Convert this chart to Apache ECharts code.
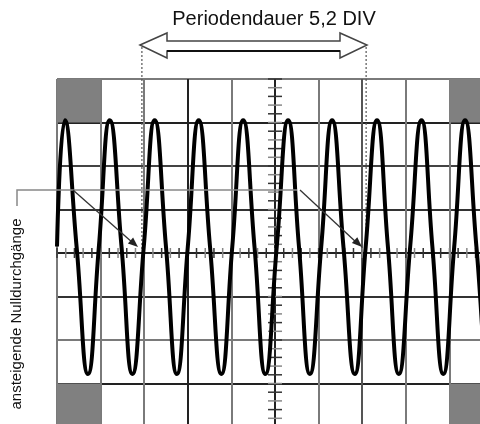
<!DOCTYPE html>
<html>
<head>
<meta charset="utf-8">
<script src="https://cdn.jsdelivr.net/npm/echarts@6/dist/echarts.min.js"></script>
<style>html,body{margin:0;padding:0;background:#fff}#c{width:480px;height:424px}</style>
</head>
<body>
<div id="c"></div>
<script>
// Title / labels
const titleText = "Periodendauer 5,2 DIV";
const sideText = "ansteigende Nulldurchgänge";
// Wave samples (x in DIV, y in DIV): start, peaks, crossings, troughs
const waveX = [0.00, 0.18, 0.45, 0.71, 0.96, 1.21, 1.48, 1.73, 1.99, 2.24, 2.50, 2.75, 3.00,
  3.25, 3.51, 3.77, 4.02, 4.27, 4.53, 4.78, 5.04, 5.30, 5.55, 5.80, 6.06, 6.31, 6.57, 6.83,
  7.08, 7.34, 7.59, 7.84, 8.10, 8.36, 8.61, 8.86, 9.11, 9.36, 9.62, 9.87, 10.0];
const waveY = [0.15, 3.05, 0.14, -2.78, 0.14, 3.05, 0.14, -2.78, 0.14, 3.05, 0.14, -2.78, 0.14,
  3.05, 0.14, -2.78, 0.14, 3.05, 0.14, -2.78, 0.14, 3.05, 0.14, -2.78, 0.14, 3.05, 0.14, -2.78,
  0.14, 3.05, 0.14, -2.78, 0.14, 3.05, 0.14, -2.78, 0.14, 3.05, 0.14, -2.78, 0.6];
// Rising zero crossings marked by the period arrow
const periodMarks = [1.97, 7.09];

const chart = echarts.init(document.getElementById('c'), null, {renderer: 'canvas'});
const G = '#7a7a7a', B = '#222';
const option = {
  animation: false,
  backgroundColor: '#fff',
  grid: {left: 57, top: 79, width: 436, height: 348, containLabel: false, outerBoundsMode: 'none'},
  xAxis: {type: 'value', min: 0, max: 10, interval: 1,
    axisLine: {show: false}, axisTick: {show: false}, axisLabel: {show: false},
    splitLine: {show: true, lineStyle: {width: 2, color: [G, G, G, B, G, B, G, '#555', G, G, G]}}},
  yAxis: {type: 'value', min: -4, max: 4, interval: 1,
    axisLine: {show: false}, axisTick: {show: false}, axisLabel: {show: false},
    splitLine: {show: true, lineStyle: {width: 2, color: [G, B, G, '#333', '#222', '#333', '#444', B, G]}}},
  series: [{
    type: 'line', smooth: 0.5, symbol: 'none', silent: true,
    data: waveX.map((x, i) => [x, waveY[i]]),
    lineStyle: {color: '#000', width: 4},
    z: 5,
    markArea: {silent: true, itemStyle: {color: '#808080'},
      data: [
        [{coord: [0, 4]}, {coord: [1, 3]}],
        [{coord: [9, 4]}, {coord: [10, 3]}],
        [{coord: [0, -3]}, {coord: [1, -4]}],
        [{coord: [9, -3]}, {coord: [10, -4]}]
      ]}
  }]
};
chart.setOption(option);

const px = (x, y) => chart.convertToPixel({gridIndex: 0}, [x, y]);
const gr = [];
// center ticks
const c0 = px(5, 0);
for (let i = 0; i <= 50; i++) {
  const p = px(i * 0.2, 0);
  gr.push({type: 'line', shape: {x1: p[0], y1: c0[1] - 5, x2: p[0], y2: c0[1] + 5},
    style: {stroke: i % 2 ? '#888' : '#333', lineWidth: 1.5}, z: 3});
}
for (let i = 0; i <= 40; i++) {
  const p = px(5, -4 + i * 0.2);
  gr.push({type: 'line', shape: {x1: c0[0] - 7, y1: p[1], x2: c0[0] + 7, y2: p[1]},
    style: {stroke: i % 2 ? '#888' : '#333', lineWidth: 1.5}, z: 3});
}
// dotted period markers
periodMarks.forEach(m => {
  const p = px(m, 0);
  const xx = p[0] + (m > 5 ? 0 : -1);
  gr.push({type: 'line', shape: {x1: xx, y1: 47, x2: xx, y2: p[1] - 2},
    style: {stroke: '#555', lineWidth: 1.2, lineDash: [2, 2]}, z: 4});
});
// double arrow
gr.push({type: 'polygon', shape: {points: [[140, 45], [167, 33], [167, 41], [340, 41], [340, 33], [367, 45], [340, 58], [340, 51], [167, 51], [167, 58]]},
  style: {fill: '#fff', stroke: '#444', lineWidth: 1.5}, z: 6});
gr.push({type: 'line', shape: {x1: 167, y1: 51, x2: 340, y2: 51}, style: {stroke: '#111', lineWidth: 2}, z: 7});
gr.push({type: 'text', style: {text: titleText, x: 274, y: 19, textAlign: 'center', textVerticalAlign: 'middle',
  font: '20px "Liberation Sans", Arial, sans-serif', fill: '#111'}, z: 6});
// bracket + arrows
gr.push({type: 'polyline', shape: {points: [[17, 206], [17, 190], [297, 190]]}, style: {stroke: '#888', lineWidth: 1.5, fill: null}, z: 6});
gr.push({type: 'line', shape: {x1: 73, y1: 190, x2: 133, y2: 243}, style: {stroke: '#333', lineWidth: 1.3}, z: 6});
gr.push({type: 'polygon', shape: {points: [[138, 247], [127.9, 243.4], [133.1, 237.4]]}, style: {fill: '#222'}, z: 6});
gr.push({type: 'line', shape: {x1: 300, y1: 190, x2: 357, y2: 243}, style: {stroke: '#333', lineWidth: 1.3}, z: 6});
gr.push({type: 'polygon', shape: {points: [[362, 247], [351.9, 243.1], [357.3, 237.3]]}, style: {fill: '#222'}, z: 6});
gr.push({type: 'text', rotation: Math.PI / 2, x: 17, y: 314, style: {text: sideText, x: 0, y: 0, textAlign: 'center', textVerticalAlign: 'middle',
  font: '15px "Liberation Sans", Arial, sans-serif', fill: '#111'}, z: 6});
chart.setOption({graphic: gr});
</script>
</body>
</html>
